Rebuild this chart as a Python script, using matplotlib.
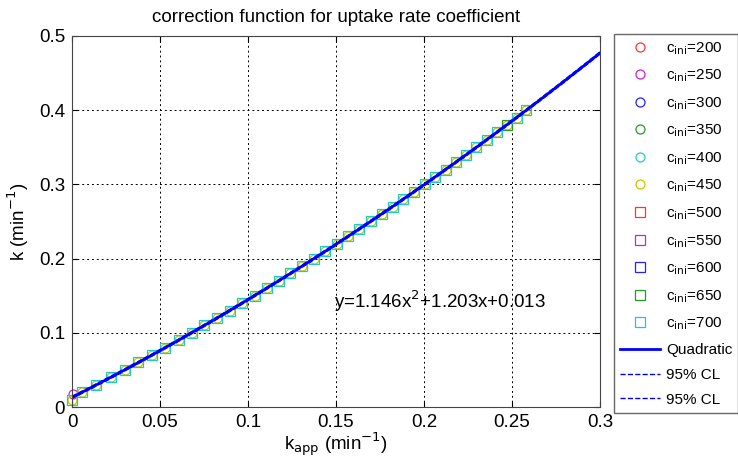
import numpy as np
import matplotlib.pyplot as plt

plt.rcParams['font.family'] = ['Liberation Sans', 'DejaVu Sans']

kapp = [0.0, 0.0058, 0.0139, 0.0220, 0.0299, 0.0377, 0.0454, 0.0530, 0.0605, 0.0679,
        0.0752, 0.0825, 0.0896, 0.0967, 0.1037, 0.1106, 0.1174, 0.1241, 0.1308, 0.1375,
        0.1440, 0.1505, 0.1569, 0.1633, 0.1696, 0.1759, 0.1821, 0.1882, 0.1943, 0.2003,
        0.2063, 0.2123, 0.2182, 0.2240, 0.2298, 0.2356, 0.2413, 0.2470, 0.2526, 0.2582]
k = [0.01, 0.02, 0.03, 0.04, 0.05, 0.06, 0.07, 0.08, 0.09, 0.10,
     0.11, 0.12, 0.13, 0.14, 0.15, 0.16, 0.17, 0.18, 0.19, 0.20,
     0.21, 0.22, 0.23, 0.24, 0.25, 0.26, 0.27, 0.28, 0.29, 0.30,
     0.31, 0.32, 0.33, 0.34, 0.35, 0.36, 0.37, 0.38, 0.39, 0.40]

c_ini = [200, 250, 300, 350, 400, 450, 500, 550, 600, 650, 700]
markers = ['o'] * 6 + ['s'] * 5
colors = ['#ff3333', '#cc22cc', '#2222ff', '#229922', '#22cccc', '#c8c800',
          '#ff3333', '#cc22cc', '#2222ff', '#229922', '#22c8c8']
# какие точки видны у каждой серии (срезы индексов)
point_sets = [(0, 0), (0, 0), (0, 0), (0, 0), (0, 0), (0, 40),
              (0, 0), (0, 0), (0, 0), (37, 38), (0, 40)]
magenta_pt = (0.0005, 0.018)

coef = [1.146, 1.203, 0.013]
cl_shift = 0.0015

fig = plt.figure(figsize=(7.38, 4.65), dpi=100)
ax = fig.add_axes([0.0976, 0.1247, 0.7154, 0.798])

handles = []
for i, c in enumerate(c_ini):
    a, b = point_sets[i]
    xs = kapp[a:b]
    ys = k[a:b]
    if c == 250:
        xs, ys = [magenta_pt[0]], [magenta_pt[1]]
    if c == 700:
        xs = kapp[:37] + kapp[38:]
        ys = k[:37] + k[38:]
    h, = ax.plot(xs, ys, linestyle='none', marker=markers[i], markersize=6.5,
                 markerfacecolor='none', markeredgecolor=colors[i], markeredgewidth=0.9,
                 label=r'c$_{\mathrm{ini}}$=%d' % c, clip_on=False)
    handles.append(h)

xf = np.linspace(0, 0.3, 200)
yf = np.polyval(coef, xf)
h1, = ax.plot(xf, yf, color='#0000ff', lw=2, label='Quadratic')
h2, = ax.plot(xf, yf + cl_shift, color='#0000ff', lw=1, ls='--', label='95% CL')
h3, = ax.plot(xf, yf - cl_shift, color='#0000ff', lw=1, ls='--', label='95% CL')
handles += [h1, h2, h3]

ax.set_xlim(0, 0.3)
ax.set_ylim(0, 0.5)
ax.set_xticks([0, 0.05, 0.1, 0.15, 0.2, 0.25, 0.3])
ax.set_xticklabels(['0', '0.05', '0.1', '0.15', '0.2', '0.25', '0.3'])
ax.set_yticks([0, 0.1, 0.2, 0.3, 0.4, 0.5])
ax.set_yticklabels(['0', '0.1', '0.2', '0.3', '0.4', '0.5'])
ax.tick_params(direction='in', labelsize=13.5, length=4, top=True, right=True, pad=5)
ax.grid(True, color='black', linestyle=(0, (2, 3)), linewidth=0.7)
for s in ax.spines.values():
    s.set_color('#444444')

ax.set_title('correction function for uptake rate coefficient', fontsize=13.5, pad=10)
ax.set_xlabel(r'k$_{\mathrm{app}}$ (min$^{-1}$)', fontsize=13.5, labelpad=0)
ax.set_ylabel(r'k (min$^{-1}$)', fontsize=13.5, labelpad=6)
ax.text(0.149, 0.133, r'y=1.146x$^{2}$+1.203x+0.013', fontsize=13.5)

leg = fig.legend(handles=handles, loc='upper left', bbox_to_anchor=(0.832, 0.927),
                 fontsize=11, frameon=True, fancybox=False, edgecolor='#444444',
                 handlelength=2.6, handletextpad=0.4, labelspacing=0.71,
                 borderpad=0.4, borderaxespad=0, numpoints=1)

fig.savefig('out.png', dpi=100)
